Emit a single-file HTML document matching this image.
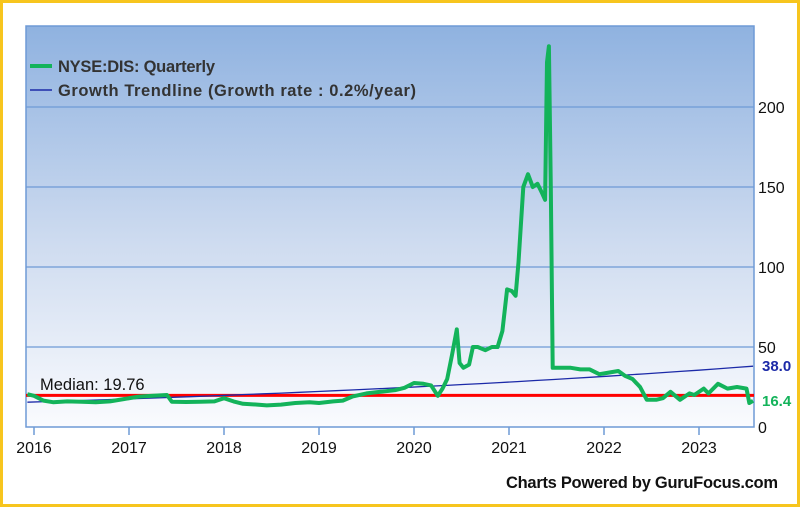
<!DOCTYPE html>
<html><head><meta charset="utf-8"><style>
html,body{margin:0;padding:0;background:#fff}
#frame{position:relative;width:800px;height:507px;box-sizing:border-box;border:3px solid #f7c51e;background:#fff;overflow:hidden}
svg{position:absolute;left:-3px;top:-3px}
text{font-family:"Liberation Sans","DejaVu Sans",sans-serif}
</style></head><body>
<div id="frame">
<svg id="chart" width="800" height="507">
<defs><linearGradient id="bg" x1="0" y1="0" x2="0" y2="1">
<stop offset="0" stop-color="#8fb2e0"/><stop offset="0.55" stop-color="#cfdcf0"/><stop offset="1" stop-color="#fafbfe"/></linearGradient></defs>
<rect x="26" y="26" width="728" height="401" fill="url(#bg)" stroke="#6e9ad6" stroke-width="1.5"/>
<g id="grid"></g><g id="xaxis"></g><g id="yaxis"></g><g id="series"></g>
<text x="40" y="390" font-size="16.5" fill="#111">Median: 19.76</text>
<g>
<line x1="30" y1="66" x2="52" y2="66" stroke="#13b35a" stroke-width="4"/>
<text x="58" y="72" font-size="16.5" font-weight="bold" fill="#333" textLength="157">NYSE:DIS: Quarterly</text>
<line x1="30" y1="90" x2="52" y2="90" stroke="#1c2aa8" stroke-width="1.5"/>
<text x="58" y="96" font-size="16.5" font-weight="bold" fill="#333" textLength="358">Growth Trendline (Growth rate : 0.2%/year)</text>
</g>
<text x="778" y="488" font-size="16.5" font-weight="bold" fill="#111" text-anchor="end" textLength="272">Charts Powered by GuruFocus.com</text>
</svg></div>
<script>
const dates=[2015.93,2016.0,2016.1,2016.2,2016.35,2016.5,2016.65,2016.8,2016.95,2017.1,2017.25,2017.4,2017.45,2017.6,2017.75,2017.9,2018.0,2018.1,2018.2,2018.35,2018.45,2018.6,2018.75,2018.9,2019.0,2019.15,2019.25,2019.35,2019.5,2019.65,2019.8,2019.9,2020.0,2020.1,2020.18,2020.25,2020.3,2020.35,2020.4,2020.45,2020.48,2020.52,2020.58,2020.62,2020.67,2020.75,2020.82,2020.88,2020.93,2020.98,2021.03,2021.07,2021.1,2021.15,2021.2,2021.25,2021.3,2021.35,2021.38,2021.4,2021.42,2021.44,2021.46,2021.55,2021.65,2021.75,2021.85,2021.95,2022.05,2022.15,2022.22,2022.3,2022.38,2022.45,2022.55,2022.62,2022.7,2022.8,2022.9,2022.95,2023.05,2023.1,2023.2,2023.3,2023.4,2023.5,2023.53,2023.57];
const values=[20.5,19.5,16.5,15.5,16,15.8,15.5,16,17.5,19,19.5,20,15.8,15.6,15.8,16,18,16,14.5,14,13.5,14,15,15.5,15,16,16.5,19,21,22,23,24.5,27.5,27,26,19.5,24,30,45,61,40,37,39,50,50,48,50,50,60,86,85,82,103,150,158,150,152,146,142,228,238,150,37,37,37,36,36,33,34,35,32,30,25,17,17,18,22,17,21,20,24,21,27,24,25,24,15,16.4];
const yTicks=[0,50,100,150,200];
const xTicks=[2016,2017,2018,2019,2020,2021,2022,2023];
const medianValue=19.76;
const trendStart=15.5, trendEnd=38.0, lastValue=16.4;

const NS="http://www.w3.org/2000/svg";
const X=d=>34+(d-2016)*95;
const Y=v=>427-v*1.6;
function mk(tag,attrs,parent){const e=document.createElementNS(NS,tag);for(const k in attrs)e.setAttribute(k,attrs[k]);parent.appendChild(e);return e;}
const grid=document.getElementById('grid'),xa=document.getElementById('xaxis'),ya=document.getElementById('yaxis'),se=document.getElementById('series');
yTicks.forEach(v=>{
  if(v>0){const l=mk('line',{x1:26,x2:754,y1:Y(v),y2:Y(v),stroke:'#6e9ad6','stroke-width':1.2},grid);
  
  }
  const t=mk('text',{x:758,y:Y(v)+6,'font-size':16,fill:'#111'},ya);t.textContent=v;
  
  
});
xTicks.forEach(d=>{
  const l=mk('line',{x1:X(d),x2:X(d),y1:427,y2:435,stroke:'#6e9ad6','stroke-width':1.5},xa);
  
  
  const t=mk('text',{x:X(d),y:453,'font-size':16,fill:'#111','text-anchor':'middle'},xa);t.textContent=d;
  
  
});
const d0=dates[0],d1=dates[dates.length-1];
const med=mk('line',{x1:26,x2:754,y1:Y(medianValue),y2:Y(medianValue),stroke:'#ff0000','stroke-width':3},se);


let tp=[];for(let i=0;i<=40;i++){const d=d0+(d1-d0)*i/40;const v=trendStart*Math.pow(trendEnd/trendStart,i/40);tp.push(X(d).toFixed(1)+','+Y(v).toFixed(1));}
const tr=mk('polyline',{points:tp.join(' '),fill:'none',stroke:'#1c2aa8','stroke-width':1.3},se);


const pts=dates.map((d,i)=>X(d).toFixed(1)+','+Y(values[i]).toFixed(1)).join(' ');
const ln=mk('polyline',{points:pts,fill:'none',stroke:'#13b35a','stroke-width':4,'stroke-linejoin':'round'},se);


const t1=mk('text',{x:762,y:Y(trendEnd)+5,'font-size':15,'font-weight':'bold',fill:'#1c2aa8'},se);t1.textContent=trendEnd.toFixed(1);


const t2=mk('text',{x:762,y:Y(lastValue)+5,'font-size':15,'font-weight':'bold',fill:'#13b35a'},se);t2.textContent=lastValue.toFixed(1);


</script>
</body></html>
